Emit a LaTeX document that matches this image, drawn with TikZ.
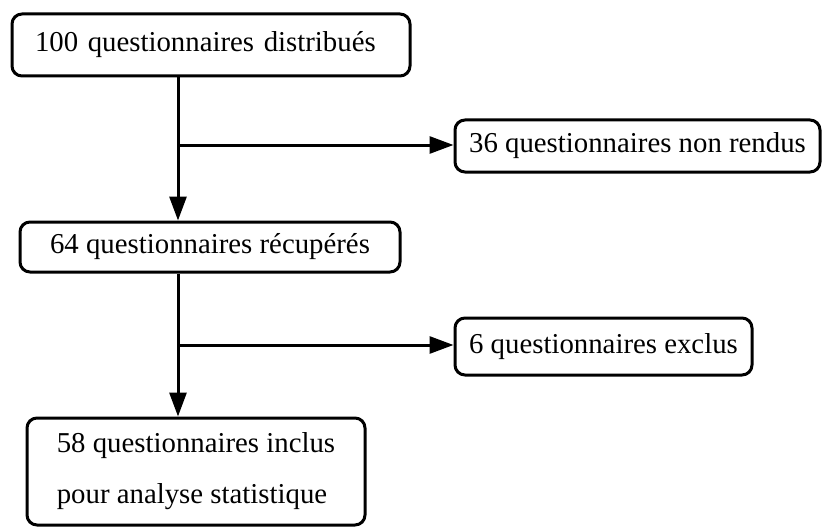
\documentclass[tikz,border=0pt]{standalone}
\usepackage{fontspec}
\setmainfont{Liberation Serif}
\usetikzlibrary{arrows.meta}
\begin{document}
\begin{tikzpicture}[x=1pt,y=-1pt,
    box/.style={draw,line width=3pt,rounded corners=10pt,inner sep=0pt,
      font=\fontsize{28.8}{51}\selectfont,align=left},
    arr/.style={line width=3pt,-{Triangle[length=24pt,width=17pt]}}]
    \useasboundingbox (0,0) rectangle (823,527);
    \node[box,minimum width=398,minimum height=62,text width=352,inner xsep=23] (dist) at (211,45) {100 questionnaires distribués};
    \node[box,minimum width=365,minimum height=52] (nonrendus) at (637.5,146) {36 questionnaires non rendus};
    \node[box,minimum width=380,minimum height=50] (recup) at (210,247) {64 questionnaires récupérés};
    \node[box,minimum width=297,minimum height=57] (exclus) at (603.5,346.5) {6 questionnaires exclus};
    \node[box,minimum width=338,minimum height=107] (inclus) at (196,471.5) {58 questionnaires inclus\\pour analyse statistique};
    \coordinate (j1) at (178,145);
    \coordinate (j2) at (178,345);
    \draw[arr] (dist.south -| j1) -- (recup.north -| j1);
    \draw[arr] (j1) -- (j1 -| nonrendus.west);
    \draw[arr] (recup.south -| j2) -- (inclus.north -| j2);
    \draw[arr] (j2) -- (j2 -| exclus.west);
  \end{tikzpicture}
\end{document}
